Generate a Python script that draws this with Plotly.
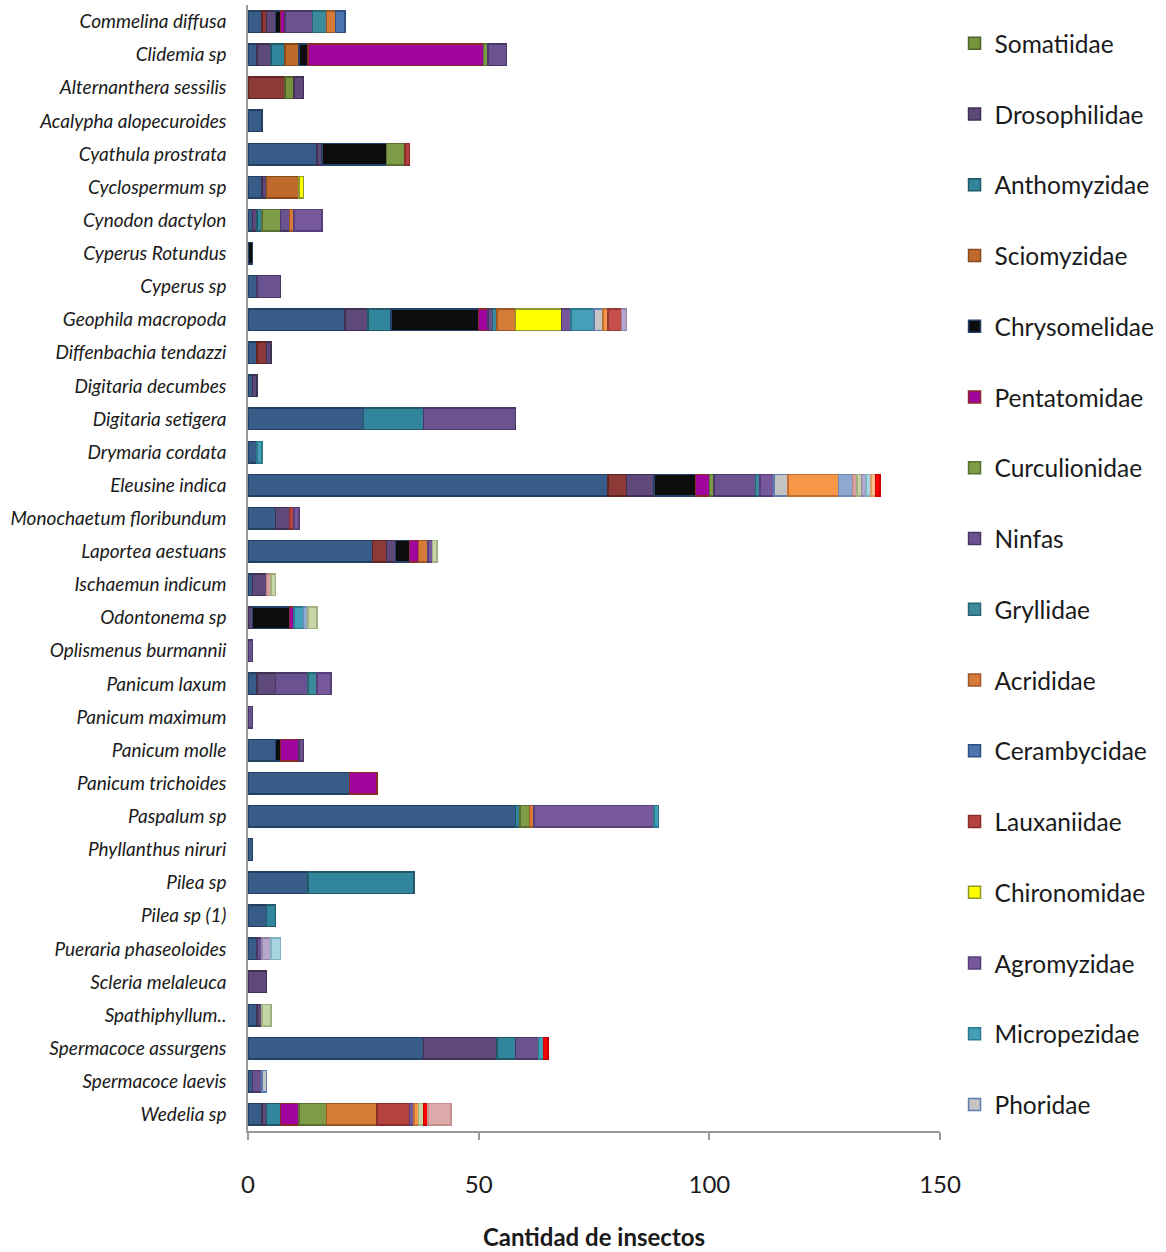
import plotly.graph_objects as go

# Plant species (top to bottom)
plantas = [
    "Commelina diffusa", "Clidemia sp", "Alternanthera sessilis", "Acalypha alopecuroides",
    "Cyathula prostrata", "Cyclospermum sp", "Cynodon dactylon", "Cyperus Rotundus",
    "Cyperus sp", "Geophila macropoda", "Diffenbachia tendazzi", "Digitaria decumbes",
    "Digitaria setigera", "Drymaria cordata", "Eleusine indica", "Monochaetum floribundum",
    "Laportea aestuans", "Ischaemun indicum", "Odontonema sp", "Oplismenus burmannii",
    "Panicum laxum", "Panicum maximum", "Panicum molle", "Panicum trichoides",
    "Paspalum sp", "Phyllanthus niruri", "Pilea sp", "Pilea sp (1)",
    "Pueraria phaseoloides", "Scleria melaleuca", "Spathiphyllum..", "Spermacoce assurgens",
    "Spermacoce laevis", "Wedelia sp",
]

# Insect counts per family on each plant (plants not listed have none)
otros_1 = {"Commelina diffusa": 3, "Clidemia sp": 2, "Acalypha alopecuroides": 3,
           "Cyathula prostrata": 15, "Cyclospermum sp": 3, "Cynodon dactylon": 1,
           "Cyperus sp": 2, "Geophila macropoda": 21, "Diffenbachia tendazzi": 2,
           "Digitaria decumbes": 1, "Digitaria setigera": 25, "Drymaria cordata": 2,
           "Eleusine indica": 78, "Monochaetum floribundum": 6, "Laportea aestuans": 27,
           "Ischaemun indicum": 1, "Panicum laxum": 2, "Panicum molle": 6,
           "Panicum trichoides": 22, "Paspalum sp": 58, "Phyllanthus niruri": 1,
           "Pilea sp": 13, "Pilea sp (1)": 4, "Pueraria phaseoloides": 2,
           "Spathiphyllum..": 2, "Spermacoce assurgens": 38, "Spermacoce laevis": 1,
           "Wedelia sp": 3}
otros_2 = {"Commelina diffusa": 1, "Alternanthera sessilis": 8, "Diffenbachia tendazzi": 2,
           "Eleusine indica": 4, "Laportea aestuans": 3}
somatiidae = {"Alternanthera sessilis": 2}
drosophilidae = {"Commelina diffusa": 2, "Clidemia sp": 3, "Alternanthera sessilis": 2,
                 "Cyathula prostrata": 1, "Cyclospermum sp": 1, "Cynodon dactylon": 1,
                 "Geophila macropoda": 5, "Diffenbachia tendazzi": 1, "Digitaria decumbes": 1,
                 "Eleusine indica": 6, "Monochaetum floribundum": 3, "Laportea aestuans": 2,
                 "Ischaemun indicum": 3, "Odontonema sp": 1, "Panicum laxum": 4,
                 "Scleria melaleuca": 4, "Spathiphyllum..": 1, "Spermacoce assurgens": 16,
                 "Wedelia sp": 1}
anthomyzidae = {"Clidemia sp": 3, "Cynodon dactylon": 1, "Geophila macropoda": 5,
                "Digitaria setigera": 13, "Paspalum sp": 1, "Pilea sp": 23, "Pilea sp (1)": 2,
                "Spermacoce assurgens": 4, "Wedelia sp": 3}
sciomyzidae = {"Clidemia sp": 3, "Cyclospermum sp": 7}
chrysomelidae = {"Commelina diffusa": 1, "Clidemia sp": 2, "Cyathula prostrata": 14,
                 "Cyperus Rotundus": 1, "Geophila macropoda": 19, "Eleusine indica": 9,
                 "Laportea aestuans": 3, "Odontonema sp": 8, "Panicum molle": 1}
pentatomidae = {"Commelina diffusa": 1, "Clidemia sp": 38, "Geophila macropoda": 2,
                "Eleusine indica": 3, "Laportea aestuans": 2, "Odontonema sp": 1,
                "Panicum molle": 4, "Panicum trichoides": 6, "Wedelia sp": 4}
curculionidae = {"Clidemia sp": 1, "Cyathula prostrata": 4, "Cynodon dactylon": 4,
                 "Eleusine indica": 1, "Paspalum sp": 2, "Wedelia sp": 6}
ninfas = {"Commelina diffusa": 6, "Clidemia sp": 4, "Cynodon dactylon": 2, "Cyperus sp": 5,
          "Geophila macropoda": 1, "Digitaria setigera": 20, "Eleusine indica": 9,
          "Oplismenus burmannii": 1, "Panicum laxum": 7, "Panicum maximum": 1,
          "Panicum molle": 1, "Pueraria phaseoloides": 1, "Spermacoce assurgens": 5,
          "Spermacoce laevis": 2}
gryllidae = {"Commelina diffusa": 3, "Geophila macropoda": 1, "Eleusine indica": 1,
             "Panicum laxum": 2}
acrididae = {"Commelina diffusa": 2, "Cynodon dactylon": 1, "Geophila macropoda": 4,
             "Laportea aestuans": 2, "Paspalum sp": 1, "Wedelia sp": 11}
cerambycidae = {"Commelina diffusa": 2}
lauxaniidae = {"Cyathula prostrata": 1, "Monochaetum floribundum": 1, "Wedelia sp": 7}
chironomidae = {"Cyclospermum sp": 1, "Geophila macropoda": 10}
agromyzidae = {"Cynodon dactylon": 6, "Geophila macropoda": 2, "Eleusine indica": 3,
               "Monochaetum floribundum": 1, "Laportea aestuans": 1, "Panicum laxum": 3,
               "Paspalum sp": 26, "Wedelia sp": 1}
micropezidae = {"Geophila macropoda": 5, "Drymaria cordata": 1, "Odontonema sp": 2,
                "Paspalum sp": 1, "Spermacoce assurgens": 1}
phoridae = {"Geophila macropoda": 2, "Eleusine indica": 3, "Spermacoce laevis": 1}
otros_3 = {"Geophila macropoda": 1, "Eleusine indica": 11, "Wedelia sp": 1}
otros_4 = {"Geophila macropoda": 3}
otros_5 = {"Eleusine indica": 3, "Odontonema sp": 1}
otros_6 = {"Eleusine indica": 1, "Ischaemun indicum": 1}
otros_7 = {"Eleusine indica": 1, "Laportea aestuans": 1, "Ischaemun indicum": 1,
           "Odontonema sp": 2, "Spathiphyllum..": 2, "Wedelia sp": 1}
otros_8 = {"Geophila macropoda": 1, "Eleusine indica": 1, "Pueraria phaseoloides": 2}
otros_9 = {"Eleusine indica": 1, "Pueraria phaseoloides": 2}
otros_10 = {"Eleusine indica": 1}
otros_11 = {"Eleusine indica": 1, "Spermacoce assurgens": 1, "Wedelia sp": 1}
otros_12 = {"Wedelia sp": 5}

# (name, counts, fill, outline, shown in legend)
series = [
    ("Otros 1", otros_1, "#385C89", "#243F62", False),
    ("Otros 2", otros_2, "#8C3A38", "#632523", False),
    ("Somatiidae", somatiidae, "#77933C", "#4F6228", True),
    ("Drosophilidae", drosophilidae, "#5F497A", "#3F3151", True),
    ("Anthomyzidae", anthomyzidae, "#31859C", "#215968", True),
    ("Sciomyzidae", sciomyzidae, "#BE6A2D", "#8A4B1C", True),
    ("Chrysomelidae", chrysomelidae, "#0D0D0D", "#24406A", True),
    ("Pentatomidae", pentatomidae, "#A0069E", "#8B2A2A", True),
    ("Curculionidae", curculionidae, "#7E9C48", "#5A7030", True),
    ("Ninfas", ninfas, "#6B5290", "#4A3864", True),
    ("Gryllidae", gryllidae, "#3B8B9C", "#2A6573", True),
    ("Acrididae", acrididae, "#D57B37", "#9C5724", True),
    ("Cerambycidae", cerambycidae, "#4A75AF", "#2F5283", True),
    ("Lauxaniidae", lauxaniidae, "#B4433F", "#8A2E2B", True),
    ("Chironomidae", chironomidae, "#FFFF00", "#8A9A2A", True),
    ("Agromyzidae", agromyzidae, "#78589C", "#56407A", True),
    ("Micropezidae", micropezidae, "#44A0B8", "#2D7A8E", True),
    ("Phoridae", phoridae, "#C4C4C4", "#5B7DB0", True),
    ("Otros 3", otros_3, "#F69646", "#C07030", False),
    ("Otros 4", otros_4, "#C64F4C", "#963A37", False),
    ("Otros 5", otros_5, "#8EA8CF", "#6D88B3", False),
    ("Otros 6", otros_6, "#D9A0A0", "#B58080", False),
    ("Otros 7", otros_7, "#C6D5A6", "#A0B080", False),
    ("Otros 8", otros_8, "#B7A6CB", "#9585AA", False),
    ("Otros 9", otros_9, "#A8D5E2", "#82B2C0", False),
    ("Otros 10", otros_10, "#F8BE8E", "#D89A68", False),
    ("Otros 11", otros_11, "#FF0000", "#CC0000", False),
    ("Otros 12", otros_12, "#DDA9A9", "#C49090", False),
]

fig = go.Figure()
for name, counts, fill, outline, in_legend in series:
    fig.add_trace(go.Bar(
        y=plantas,
        x=[counts.get(p) for p in plantas],
        name=name,
        orientation="h",
        legendgroup=name,
        showlegend=in_legend,
        marker=dict(color=fill, line=dict(color=outline, width=1.5)),
    ))

fig.update_layout(
    width=1166, height=1252,
    margin=dict(l=248, r=226, t=5, b=121, autoexpand=False),
    barmode="stack",
    bargap=0.35,
    plot_bgcolor="white",
    paper_bgcolor="white",
    font=dict(family="Lato", color="#1a1a1a"),
    legend=dict(
        x=1.021, xanchor="left", y=0.986, yanchor="top",
        traceorder="grouped", tracegroupgap=35.9,
        font=dict(family="Lato", size=24.5, color="#1a1a1a"),
        bgcolor="rgba(0,0,0,0)",
    ),
    xaxis=dict(
        range=[0, 150], tickvals=[0, 50, 100, 150],
        showgrid=False, zeroline=False,
        showline=True, linecolor="#9a9a9a", linewidth=1.5,
        ticks="outside", ticklen=7, tickcolor="#9a9a9a", tickwidth=1.5,
        ticklabelstandoff=24,
        tickfont=dict(family="Lato", size=24, color="#1a1a1a"),
        title=dict(text="<b>Cantidad de insectos</b>", standoff=33,
                   font=dict(family="Lato", size=24, color="#1a1a1a")),
    ),
    yaxis=dict(
        autorange="reversed",
        showgrid=False, zeroline=False,
        showline=True, linecolor="#9a9a9a", linewidth=1.5,
        ticks="", ticklabelstandoff=16,
        tickfont=dict(family="Lato", size=19, style="italic", color="#1a1a1a"),
    ),
)

fig.write_html("out.html")
